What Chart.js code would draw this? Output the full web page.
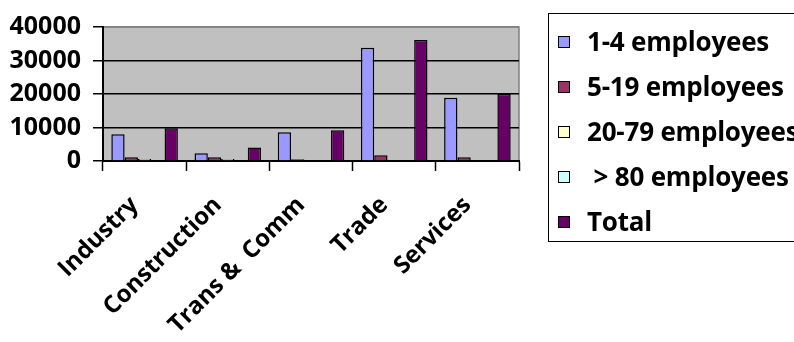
<!DOCTYPE html>
<html>
<head>
<meta charset="utf-8">
<script src="https://cdn.jsdelivr.net/npm/chart.js@4.4.1/dist/chart.umd.min.js"></script>
<style>
  html, body { margin: 0; padding: 0; background: #fff; overflow: hidden; width: 794px; height: 342px; }
  #wrap { position: relative; width: 794px; height: 342px; overflow: hidden; }
  #legend {
    position: absolute; left: 548px; top: 13px; width: 300px; height: 229px;
    border: 1.5px solid #000; box-sizing: border-box;
    font-family: "Open Sans", sans-serif; font-weight: bold; font-size: 26px; letter-spacing: -0.2px;
  }
  #legend .item { position: absolute; left: 9px; height: 30px; line-height: 30px; white-space: nowrap; }
  #legend .box { display: inline-block; width: 10px; height: 10px; border: 1.5px solid #000; vertical-align: middle; margin-right: 17px; position: relative; top: -2px; }
</style>
</head>
<body>
<div id="wrap">
  <canvas id="chart" width="794" height="342"></canvas>
  <div id="legend"></div>
</div>
<script>
////// Firms by size

const sectors = ["Industry", "Construction", "Trans &  Comm", "Trade", "Services"];
const seriesNames = ["1-4 employees", "5-19 employees", "20-79 employees", " > 80 employees", "Total"];
const seriesColors = ["#9999FF", "#993366", "#FFFFCC", "#CCFFFF", "#660066"];

const small = [8000, 2300, 8600, 33800, 18900];
const medium = [1100, 1100, 500, 1700, 1100];
const large = [600, 600, 0, 0, 0];
const veryLarge = [0, 0, 0, 0, 0];
const total = [9800, 4000, 9200, 36100, 20000];

const yTicks = [0, 10000, 20000, 30000, 40000];

const seriesValues = [small, medium, large, veryLarge, total];

// grey plot area with a thin grey frame
const plotBackground = {
    id: 'plotBackground',
    beforeDraw(chart) {
        const a = chart.chartArea;
        const c = chart.ctx;
        c.save();
        c.fillStyle = '#C0C0C0';
        c.fillRect(a.left, a.top, a.right - a.left, a.bottom - a.top);
        c.strokeStyle = '#808080';
        c.lineWidth = 1.5;
        c.strokeRect(a.left, a.top, a.right - a.left, a.bottom - a.top);
        c.restore();
    }
};

const ctx = document.getElementById('chart').getContext('2d');
const chart = new Chart(ctx, {
    type: 'bar',
    data: {
        labels: sectors,
        datasets: seriesNames.map((name, i) => ({
            label: name,
            data: seriesValues[i],
            backgroundColor: seriesColors[i],
            borderColor: '#000',
            borderWidth: 1.5,
            categoryPercentage: 0.8,
            barPercentage: 1
        }))
    },
    options: {
        responsive: false,
        animation: false,
        layout: { padding: { left: 0, right: 275, top: 22, bottom: 0 } },
        plugins: {
            legend: { display: false },
            tooltip: { enabled: false }
        },
        scales: {
            x: {
                afterFit(scale) { scale.height = 181; },
                grid: { drawOnChartArea: false, drawTicks: true, tickLength: 10, tickColor: '#000', tickWidth: 1.5 },
                border: { color: '#000', width: 2 },
                ticks: {
                    color: '#000',
                    font: { family: 'Open Sans', weight: 'bold', size: 24 },
                    minRotation: 45,
                    maxRotation: 45,
                    autoSkip: false,
                    padding: 20,
                    labelOffset: -10
                }
            },
            y: {
                min: 0,
                max: 40000,
                afterFit(scale) { scale.width = 103; },
                afterBuildTicks(scale) { scale.ticks = yTicks.map(v => ({ value: v })); },
                grid: {
                    color: c => (c.tick && c.tick.value === 40000) ? '#808080' : '#000',
                    lineWidth: 1.5,
                    tickLength: 10,
                    tickColor: '#000',
                    tickWidth: 1.5
                },
                border: { color: '#000', width: 2 },
                ticks: {
                    color: '#000',
                    font: { family: 'Open Sans', weight: 'bold', size: 25 },
                    padding: 12,
                    callback: v => String(v)
                }
            }
        }
    },
    plugins: [plotBackground]
});

// legend box built from the dataset names and colours
const legend = document.getElementById('legend');
seriesNames.forEach((name, i) => {
    const item = document.createElement('div');
    item.className = 'item';
    item.style.top = (12 + i * 45) + 'px';
    const box = document.createElement('span');
    box.className = 'box';
    box.style.background = seriesColors[i];
    item.appendChild(box);
    item.appendChild(document.createTextNode(name));
    legend.appendChild(item);
});
</script>
</body>
</html>
